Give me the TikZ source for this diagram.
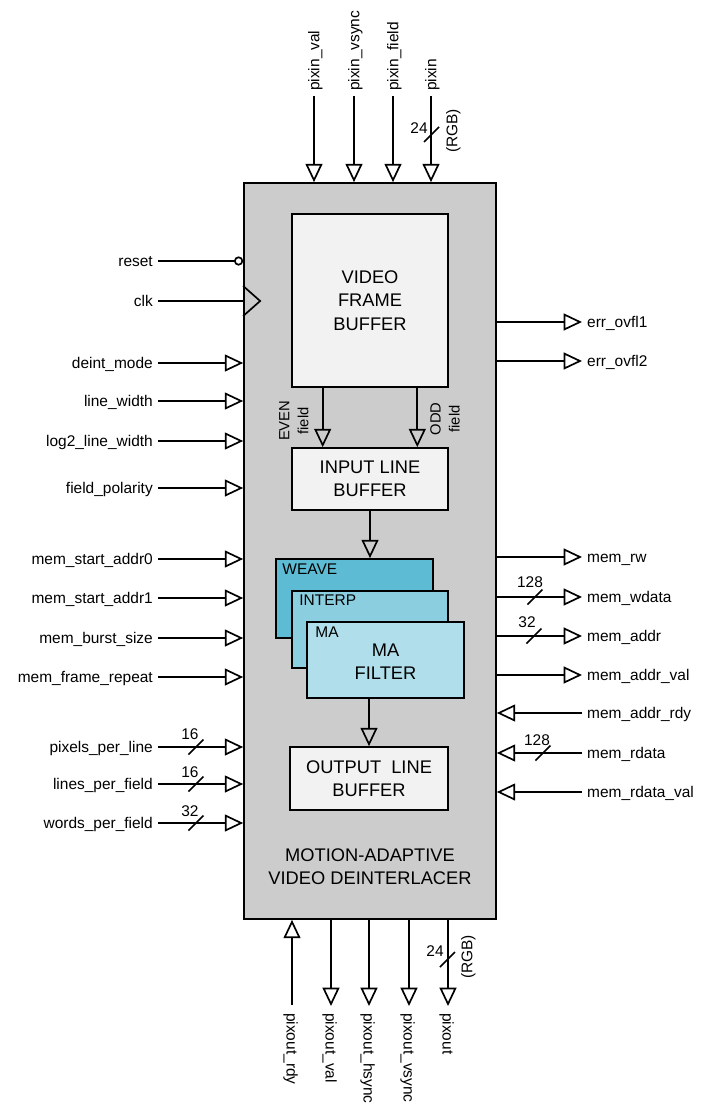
\documentclass[tikz,border=0pt]{standalone}
\usepackage{fontspec}
\setmainfont{Liberation Sans}
\usetikzlibrary{arrows.meta,positioning,calc,fit}
\definecolor{coregray}{RGB}{204,204,204}
\definecolor{blkwhite}{RGB}{242,242,242}
\definecolor{weavefill}{RGB}{93,187,211}
\definecolor{interpfill}{RGB}{138,206,224}
\definecolor{mafill}{RGB}{176,222,234}
\newcommand{\pinfont}{\fontsize{11}{13}\selectfont}
\newcommand{\ttlfont}{\fontsize{13}{16.5}\selectfont}

\begin{document}
\begin{tikzpicture}[x=0.025cm,y=-0.025cm,
  wire/.style={line width=1.2pt},
  intri/.style={wire,-{Triangle[open,length=13pt,width=12pt]}},
  invcirc/.style={wire,-{Circle[open,length=6.5pt]}},
  pin/.style={font=\pinfont,inner sep=3.5pt,text height=7.8pt,text depth=0pt},
  buswd/.style={font=\fontsize{11}{12}\selectfont,inner sep=0pt},
  fieldlbl/.style={font=\fontsize{10.5}{13.5}\selectfont,align=center,inner sep=2pt},
  blk/.style={draw,line width=1.2pt,fill=blkwhite,inner sep=0pt},
  ttl/.style={font=\ttlfont,align=center}]
  \useasboundingbox (0,0) rectangle (708,1106);

  % core block
  \node[draw,line width=1.2pt,fill=coregray,inner sep=0pt,fit={(244,183) (496,919)}] (core) {};
  \node[ttl] (title) at (370,867) {MOTION-ADAPTIVE\\VIDEO DEINTERLACER};

  % inner blocks
  \node[blk,fit={(292,214) (448,387)}] (vfb) {};
  \node[blk,fit={(292,448) (448,510)}] (ilb) {};
  \node[blk,fill=weavefill,fit={(276,559) (433,638)}] (weave) {};
  \node[blk,fill=interpfill,fit={(292,591) (448,668)}] (interp) {};
  \node[blk,fill=mafill,fit={(307,622) (464,698)}] (ma) {};
  \node[blk,fit={(290,747) (448,810)}] (olb) {};
  \node[ttl] (vfbtxt) at (vfb) {VIDEO\\FRAME\\BUFFER};
  \node[ttl] (ilbtxt) at (ilb) {INPUT LINE\\BUFFER};
  \node[ttl] (matxt) at ($(ma)+(0,2)$) {MA\\FILTER};
  \node[ttl] (olbtxt) at (olb) {OUTPUT\ \ LINE\\BUFFER};
  \node[pin,inner sep=0pt,anchor=north west] (weavetag) at ($(weave.north west)+(7,5)$) {WEAVE};
  \node[pin,inner sep=0pt,anchor=north west] (interptag) at ($(interp.north west)+(8,4)$) {INTERP};
  \node[pin,inner sep=0pt,anchor=north west] (matag) at ($(ma.north west)+(9,5)$) {MA};

  % internal data flow
  \coordinate (even) at ($(vfb.south west)!0.2!(vfb.south east)$);
  \coordinate (odd) at ($(vfb.south west)!0.8!(vfb.south east)$);
  \draw[intri] (even) -- (even |- ilb.north);
  \draw[intri] (odd) -- (odd |- ilb.north);
  \node[fieldlbl,rotate=90,anchor=south] (evenlbl) at ($(even)+(-11,33)$) {EVEN\\field};
  \node[fieldlbl,rotate=90,anchor=north] (oddlbl) at ($(odd)+(10,31)$) {ODD\\field};
  \draw[intri] (ilb.south) -- (ilb.south |- weave.north);
  \draw[intri] (olb.north |- ma.south) -- (olb.north);

  % left side inputs
  \node[pin,anchor=east] (reset) at (158,261) {reset};
  \node[pin,anchor=east] (clk) at (158,301) {clk};
  \node[pin,anchor=east] (deint) at (158,363) {deint\_mode};
  \node[pin,anchor=east] (lwidth) at (158,401) {line\_width};
  \node[pin,anchor=east] (log2lw) at (158,441) {log2\_line\_width};
  \node[pin,anchor=east] (fpol) at (158,488) {field\_polarity};
  \node[pin,anchor=east] (msa0) at (158,559) {mem\_start\_addr0};
  \node[pin,anchor=east] (msa1) at (158,598) {mem\_start\_addr1};
  \node[pin,anchor=east] (mburst) at (158,638) {mem\_burst\_size};
  \node[pin,anchor=east] (mfrep) at (158,677) {mem\_frame\_repeat};
  \node[pin,anchor=east] (ppl) at (158,747) {pixels\_per\_line};
  \node[pin,anchor=east] (lpf) at (158,784) {lines\_per\_field};
  \node[pin,anchor=east] (wpf) at (158,823) {words\_per\_field};
  \draw[invcirc] (reset.east) -- (reset.east -| core.west);
  \draw[wire] (clk.east) -- (clk.east -| core.west);
  \draw[wire] ($(clk.east -| core.west)+(0,-15)$) -- ++(17,15) -- ++(-17,15);
  \draw[intri] (deint.east) -- (deint.east -| core.west);
  \draw[intri] (lwidth.east) -- (lwidth.east -| core.west);
  \draw[intri] (log2lw.east) -- (log2lw.east -| core.west);
  \draw[intri] (fpol.east) -- (fpol.east -| core.west);
  \draw[intri] (msa0.east) -- (msa0.east -| core.west);
  \draw[intri] (msa1.east) -- (msa1.east -| core.west);
  \draw[intri] (mburst.east) -- (mburst.east -| core.west);
  \draw[intri] (mfrep.east) -- (mfrep.east -| core.west);
  \draw[intri] (ppl.east) -- (ppl.east -| core.west);
  \draw[intri] (lpf.east) -- (lpf.east -| core.west);
  \draw[intri] (wpf.east) -- (wpf.east -| core.west);
  \draw[wire] (196,747) ++(-7.5,7.5) -- ++(15,-15);
  \draw[wire] (196,784) ++(-7.5,7.5) -- ++(15,-15);
  \draw[wire] (196,823) ++(-7.5,7.5) -- ++(15,-15);
  \node[buswd] (pplw) at (190,734) {16};
  \node[buswd] (lpfw) at (190,772) {16};
  \node[buswd] (wpfw) at (190,811) {32};

  % right side
  \node[pin,anchor=west] (ovfl1) at (582,322) {err\_ovfl1};
  \node[pin,anchor=west] (ovfl2) at (582,361) {err\_ovfl2};
  \node[pin,anchor=west] (mrw) at (582,557) {mem\_rw};
  \node[pin,anchor=west] (mwdata) at (582,597) {mem\_wdata};
  \node[pin,anchor=west] (maddr) at (582,636) {mem\_addr};
  \node[pin,anchor=west] (maval) at (582,675) {mem\_addr\_val};
  \node[pin,anchor=west] (mardy) at (582,713) {mem\_addr\_rdy};
  \node[pin,anchor=west] (mrdata) at (582,753) {mem\_rdata};
  \node[pin,anchor=west] (mrval) at (582,792) {mem\_rdata\_val};
  \draw[intri] (ovfl1.west -| core.east) -- (ovfl1.west);
  \draw[intri] (ovfl2.west -| core.east) -- (ovfl2.west);
  \draw[intri] (mrw.west -| core.east) -- (mrw.west);
  \draw[intri] (mwdata.west -| core.east) -- (mwdata.west);
  \draw[intri] (maddr.west -| core.east) -- (maddr.west);
  \draw[intri] (maval.west -| core.east) -- (maval.west);
  \draw[intri] (mardy.west) -- (mardy.west -| core.east);
  \draw[intri] (mrdata.west) -- (mrdata.west -| core.east);
  \draw[intri] (mrval.west) -- (mrval.west -| core.east);
  \draw[wire] (535,597) ++(-7.5,7.5) -- ++(15,-15);
  \draw[wire] (534,636) ++(-7.5,7.5) -- ++(15,-15);
  \draw[wire] (543,753) ++(-7.5,7.5) -- ++(15,-15);
  \node[buswd] (mwdataw) at (530,582) {128};
  \node[buswd] (maddrw) at (527,622) {32};
  \node[buswd] (mrdataw) at (537,740) {128};

  % top inputs
  \node[pin,rotate=90,anchor=west] (pival) at (314,96) {pixin\_val};
  \node[pin,rotate=90,anchor=west] (pivs) at (354,96) {pixin\_vsync};
  \node[pin,rotate=90,anchor=west] (pifld) at (393,96) {pixin\_field};
  \node[pin,rotate=90,anchor=west] (pixin) at (431,96) {pixin};
  \draw[intri] (pival.west) -- (pival.west |- core.north);
  \draw[intri] (pivs.west) -- (pivs.west |- core.north);
  \draw[intri] (pifld.west) -- (pifld.west |- core.north);
  \draw[intri] (pixin.west) -- (pixin.west |- core.north);
  \draw[wire] (431.5,134.5) ++(-7.5,7.5) -- ++(15,-15);
  \node[buswd] (pixinw) at (419,128) {24};
  \node[pin,rotate=90] (pixinrgb) at (452,131) {(RGB)};

  % bottom outputs
  \node[pin,rotate=-90,anchor=west] (pordy) at (292,1008) {pixout\_rdy};
  \node[pin,rotate=-90,anchor=west] (poval) at (331,1008) {pixout\_val};
  \node[pin,rotate=-90,anchor=west] (pohs) at (369,1008) {pixout\_hsync};
  \node[pin,rotate=-90,anchor=west] (povs) at (409,1008) {pixout\_vsync};
  \node[pin,rotate=-90,anchor=west] (pixout) at (448,1008) {pixout};
  \draw[intri] ($(pordy.west)+(0,-3)$) -- (pordy.west |- core.south);
  \draw[intri] (poval.west |- core.south) -- ($(poval.west)+(0,-2)$);
  \draw[intri] (pohs.west |- core.south) -- ($(pohs.west)+(0,-2)$);
  \draw[intri] (povs.west |- core.south) -- ($(povs.west)+(0,-2)$);
  \draw[intri] (pixout.west |- core.south) -- ($(pixout.west)+(0,-2)$);
  \draw[wire] (447.5,959.5) ++(-7.5,7.5) -- ++(15,-15);
  \node[buswd] (pixoutw) at (435,951) {24};
  \node[pin,rotate=90] (pixoutrgb) at (467,957) {(RGB)};
\end{tikzpicture}
\end{document}
